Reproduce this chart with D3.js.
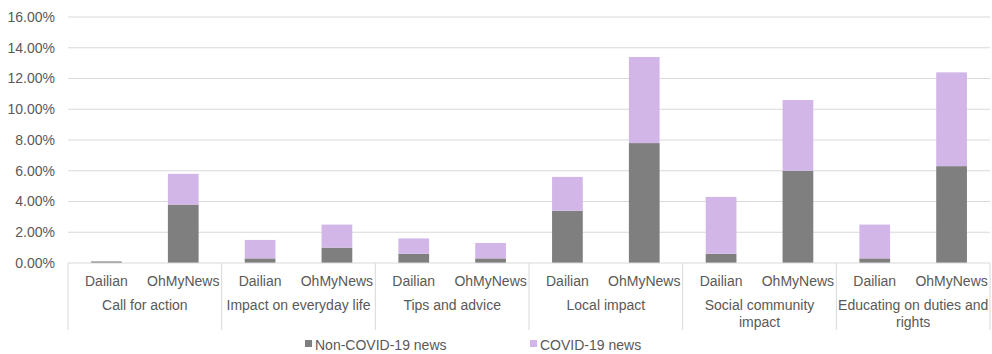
<html>
<head>
    <script src="https://d3js.org/d3.v7.min.js"></script>
    <style>
        body { margin: 0; background: white; font-family: "Liberation Sans", Arial, sans-serif; }
        text { fill: #595959; font-size: 14px; }
    </style>
</head>
<body>
    <div id="chart"></div>
    <script>
        // data
        var categories = ["Call for action", "Impact on everyday life", "Tips and advice", "Local impact", "Social community impact", "Educating on duties and rights"];
        var outlets = ["Dailian", "OhMyNews"];
        var seriesNames = ["Non-COVID-19 news", "COVID-19 news"];
        // per category: [Dailian, OhMyNews]
        var nonCovid = [[0.1, 3.8], [0.3, 1.0], [0.6, 0.3], [3.4, 7.8], [0.6, 6.0], [0.3, 6.3]];
        var covid = [[0.0, 2.0], [1.2, 1.5], [1.0, 1.0], [2.2, 5.6], [3.7, 4.6], [2.2, 6.1]];
        var yTicks = [0, 2, 4, 6, 8, 10, 12, 14, 16];
        var colors = ["#7f7f7f", "#d2b6e8"];

        var width = 992, height = 354,
            margin = { top: 17, right: 2, bottom: 91, left: 68 };
        var innerW = width - margin.left - margin.right,
            innerH = height - margin.top - margin.bottom;

        var svg = d3.select("#chart").append("svg").attr("width", width).attr("height", height);
        var g = svg.append("g").attr("transform", "translate(" + margin.left + "," + margin.top + ")");

        var x0 = d3.scaleBand().domain(categories).range([0, innerW]);
        var x1 = d3.scaleBand().domain(outlets).range([0, x0.bandwidth()]).paddingInner(0.6).paddingOuter(0.3);
        var y = d3.scaleLinear().domain([0, 16]).range([innerH, 0]);

        // gridlines
        g.append("g").selectAll("line").data(yTicks.slice(1)).enter().append("line")
            .attr("x1", 0).attr("x2", innerW)
            .attr("y1", function (d) { return y(d); }).attr("y2", function (d) { return y(d); })
            .attr("stroke", "#d9d9d9");

        // y labels
        g.append("g").selectAll("text").data(yTicks).enter().append("text")
            .attr("x", -13).attr("y", function (d) { return y(d); }).attr("dy", "0.35em")
            .attr("text-anchor", "end")
            .text(function (d) { return d.toFixed(2) + "%"; });

        // stacked bars
        var rows = [];
        categories.forEach(function (c, i) {
            outlets.forEach(function (o, j) {
                rows.push({ cat: c, outlet: o, v0: nonCovid[i][j], v1: covid[i][j] });
            });
        });
        var stack = d3.stack().keys(["v0", "v1"])(rows);
        g.append("g").selectAll("g").data(stack).enter().append("g")
            .attr("fill", function (d, i) { return colors[i]; })
            .selectAll("rect").data(function (d) { return d; }).enter().append("rect")
            .attr("x", function (d) { return x0(d.data.cat) + x1(d.data.outlet); })
            .attr("width", x1.bandwidth())
            .attr("y", function (d) { return y(d[1]); })
            .attr("height", function (d) { return y(d[0]) - y(d[1]); });

        // x axis line and group dividers
        g.append("line").attr("x1", 0).attr("x2", innerW).attr("y1", innerH).attr("y2", innerH).attr("stroke", "#d9d9d9");
        var dividers = categories.map(function (c) { return x0(c); }).concat([innerW]);
        g.append("g").selectAll("line").data(dividers).enter().append("line")
            .attr("x1", function (d) { return d; }).attr("x2", function (d) { return d; })
            .attr("y1", innerH).attr("y2", innerH + 67)
            .attr("stroke", "#d9d9d9");

        // outlet labels
        g.append("g").selectAll("text").data(rows).enter().append("text")
            .attr("x", function (d) { return x0(d.cat) + x1(d.outlet) + x1.bandwidth() / 2; })
            .attr("y", innerH + 23)
            .attr("text-anchor", "middle")
            .text(function (d) { return d.outlet; });

        // category labels, wrapped like the original
        var wrapped = {
            "Social community impact": ["Social community", "impact"],
            "Educating on duties and rights": ["Educating on duties and", "rights"]
        };
        var catText = g.append("g").selectAll("text").data(categories).enter().append("text")
            .attr("x", function (d) { return x0(d) + x0.bandwidth() / 2; })
            .attr("y", innerH + 47)
            .attr("text-anchor", "middle");
        catText.selectAll("tspan").data(function (d) { return wrapped[d] || [d]; }).enter().append("tspan")
            .attr("x", function () { var p = d3.select(this.parentNode).datum(); return x0(p) + x0.bandwidth() / 2; })
            .attr("dy", function (d, i) { return i ? 17 : 0; })
            .text(function (d) { return d; });

        // legend
        var legendX = [305, 530];
        var lg = svg.append("g").selectAll("g").data(seriesNames).enter().append("g")
            .attr("transform", function (d, i) { return "translate(" + legendX[i] + ",345)"; });
        lg.append("rect").attr("x", 0).attr("y", -5).attr("width", 7).attr("height", 7)
            .attr("fill", function (d, i) { return colors[i]; });
        lg.append("text").attr("x", 10).attr("dy", "0.35em").text(function (d) { return d; });
    </script>
</body>
</html>
